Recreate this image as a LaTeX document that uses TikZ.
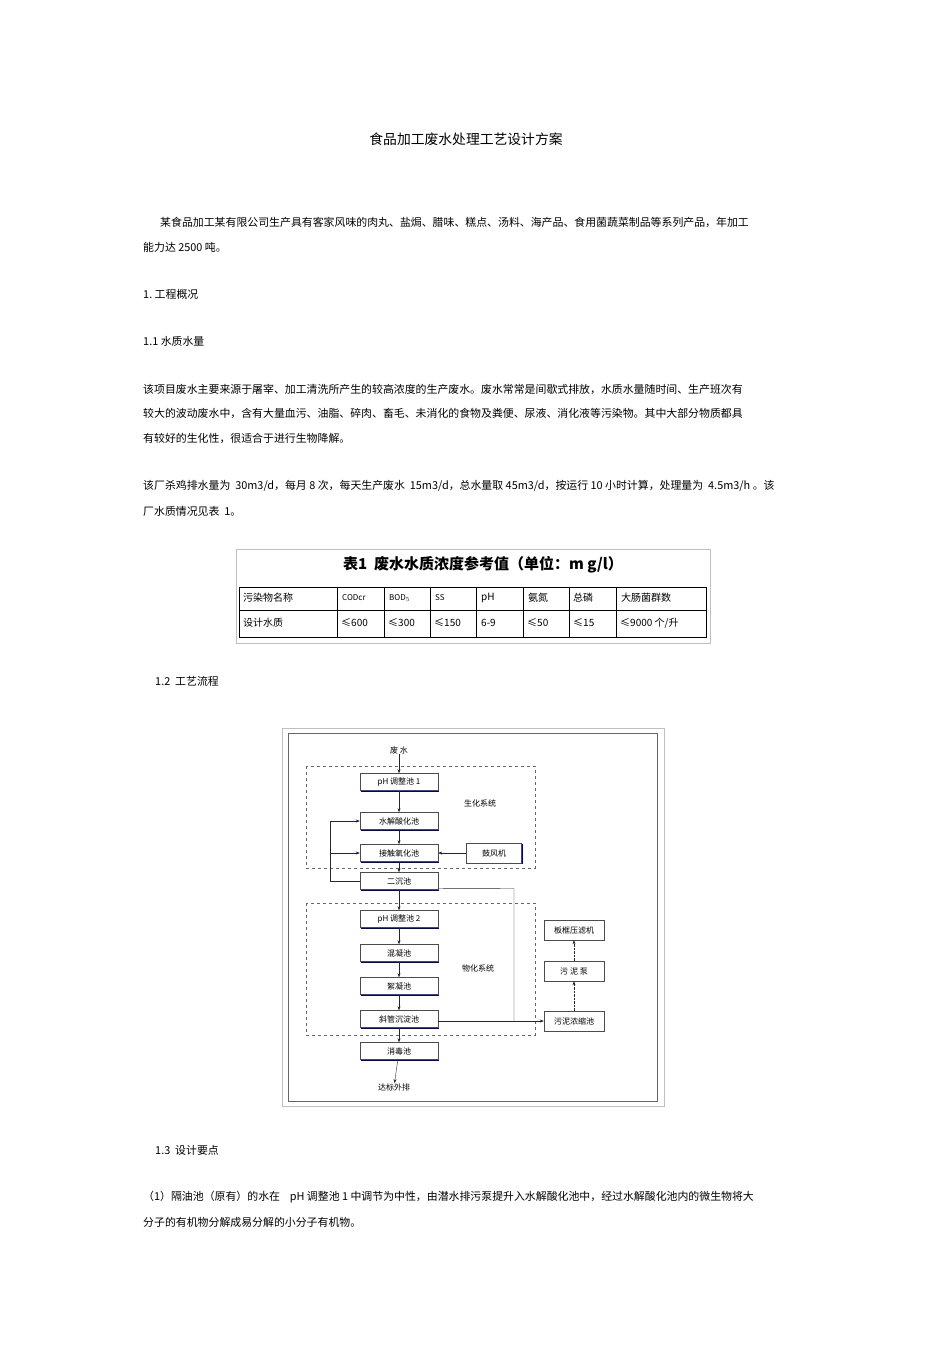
\documentclass[tikz,border=0pt]{standalone}
\usepackage{fontspec}
\setmainfont{Noto Sans CJK SC}
\usetikzlibrary{arrows.meta,calc,shadows}
\begin{document}
\begin{tikzpicture}[x=1pt,y=-1pt,
  txt/.style={anchor=west,inner sep=0,font=\fontsize{10.9}{12}\selectfont},
  box/.style={draw=black!70,fill=white,minimum width=78pt,minimum height=17pt,inner sep=0,font=\fontsize{8}{9}\selectfont,
    drop shadow={fill=blue!45!black,opacity=1,shadow xshift=1.3pt,shadow yshift=-1.3pt}},
  lbl/.style={inner sep=0,font=\fontsize{8}{9}\selectfont},
  arr/.style={-{Stealth[length=4pt,width=3pt]},black!85},
  dbox/.style={draw=black!60,dashed,line width=1pt},
  cell/.style={inner sep=0,anchor=west,font=\fontsize{10}{11}\selectfont}]
\useasboundingbox (0,0) rectangle (950,1345);
\fill[white] (0,0) rectangle (950,1345);
\node[inner sep=0,font=\fontsize{13.8}{15}\selectfont] (title) at (466,139) {食品加工废水处理工艺设计方案};
\node[txt] (p1) at (160,222) {某食品加工某有限公司生产具有客家风味的肉丸、盐焗、腊味、糕点、汤料、海产品、食用菌蔬菜制品等系列产品，年加工};
\node[txt] (p2) at (143,247) {能力达 2500 吨。};
\node[txt] (h1) at (143,294) {1.\ 工程概况};
\node[txt] (h11) at (143,341) {1.1\ 水质水量};
\node[txt] (p3) at (143,389) {该项目废水主要来源于屠宰、加工清洗所产生的较高浓度的生产废水。废水常常是间歇式排放，水质水量随时间、生产班次有};
\node[txt] (p4) at (143,413) {较大的波动废水中，含有大量血污、油脂、碎肉、畜毛、未消化的食物及粪便、尿液、消化液等污染物。其中大部分物质都具};
\node[txt] (p5) at (143,438) {有较好的生化性，很适合于进行生物降解。};
\node[txt] (p6) at (143,486) {该厂杀鸡排水量为\ \ 30m3/d，每月 8 次，每天生产废水\ \ 15m3/d，总水量取 45m3/d，按运行 10 小时计算，处理量为\ \ 4.5m3/h 。该};
\node[txt] (p7) at (143,511) {厂水质情况见表\ \ 1。};
% table
\draw[black!25] (236,549) rectangle (710,643);
\node[inner sep=0,font=\fontsize{15}{17}\selectfont\bfseries] (tt) at (483,565) {表1\ \ 废水水质浓度参考值（单位：m g/l）};
\draw[line width=0.9pt] (239,587) rectangle (706,637);
\draw[line width=0.9pt] (239,610) -- (706,610);
\foreach \x in {337,384,430,476,523,569,616} \draw[line width=0.9pt] (\x,587) -- (\x,637);
\node[cell] (c1) at (243,598) {污染物名称};
\node[cell,font=\fontsize{8}{9}\selectfont] (c2) at (342,598) {CODcr};
\node[cell,font=\fontsize{8}{9}\selectfont] (c3) at (389,598) {BOD$_5$};
\node[cell,font=\fontsize{8}{9}\selectfont] (c4) at (435,598) {SS};
\node[cell] (c5) at (481,598) {pH};
\node[cell] (c6) at (528,598) {氨氮};
\node[cell] (c7) at (573,598) {总磷};
\node[cell] (c8) at (621,598) {大肠菌群数};
\node[cell] (d1) at (243,623) {设计水质};
\node[cell] (d2) at (341,623) {≤600};
\node[cell] (d3) at (388,623) {≤300};
\node[cell] (d4) at (434,623) {≤150};
\node[cell] (d5) at (481,623) {6-9};
\node[cell] (d6) at (527,623) {≤50};
\node[cell] (d7) at (573,623) {≤15};
\node[cell] (d8) at (620,623) {≤9000 个/升};
\node[txt] (h12) at (155,681) {1.2\ \ 工艺流程};
% flow chart
\draw[black!25] (282,728) rectangle (664,1106);
\draw[black!60,line width=1pt] (288,733) rectangle (657,1101);
\draw[dbox] (306,766) rectangle (535,868);
\draw[dbox] (306,903) rectangle (535,1035);
\node[lbl] (fs) at (399,750) {废 水};
\node[box] (ph1) at (399,782) {pH 调整池 1};
\node[box] (sj) at (399,821) {水解酸化池};
\node[box] (jc) at (399,853) {接触氧化池};
\node[box,minimum width=55pt,minimum height=20pt] (gf) at (494,853) {鼓风机};
\node[box] (ec) at (399,881) {二沉池};
\node[lbl] (sh) at (480,803) {生化系统};
\node[box] (ph2) at (399,919) {pH 调整池 2};
\node[box] (hn) at (399,953) {混凝池};
\node[box] (xn) at (399,986) {絮凝池};
\node[box] (xg) at (399,1019) {斜管沉淀池};
\node[box] (xd) at (399,1051) {消毒池};
\node[lbl] (db) at (394,1087) {达标外排};
\node[lbl] (wh) at (478,968) {物化系统};
\node[box,minimum width=60pt,minimum height=20pt] (bk) at (574,930) {板框压滤机};
\node[box,minimum width=60pt,minimum height=20pt] (wb) at (574,971) {污 泥 泵};
\node[box,minimum width=60pt,minimum height=20pt] (wn) at (574,1021) {污泥浓缩池};
\draw[arr] (fs) -- (ph1);
\draw[arr] (ph1) -- (sj);
\draw[arr] (sj) -- (jc);
\draw[arr] (jc) -- (ec);
\draw[arr] (gf) -- (jc);
\coordinate (fb) at (330,821);
\draw[black!85] (ec.west) -- (330,881) -- (fb);
\draw[arr] (fb) -- (sj.west);
\draw[arr] (330,853) -- (jc.west);
\draw[arr] (ec) -- (ph2);
\draw[arr] (ph2) -- (hn);
\draw[arr] (hn) -- (xn);
\draw[arr] (xn) -- (xg);
\draw[arr] (xg) -- (xd);
\draw[arr] (xd) -- (db);
\draw[black!85] ($(ec.south east)+(0,-1)$) -- (514,888.5) -- (514,1021);
\draw[arr] (xg.east |- wn.west) -- (wn.west);
\draw[arr,densely dotted] (wn) -- (wb);
\draw[arr,densely dotted] (wb) -- (bk);
\node[txt] (h13) at (155,1150) {1.3\ \ 设计要点};
\node[txt] (p8) at (143,1197) {（1）隔油池（原有）的水在\ \ \ \ pH 调整池 1 中调节为中性，由潜水排污泵提升入水解酸化池中，经过水解酸化池内的微生物将大};
\node[txt] (p9) at (143,1222) {分子的有机物分解成易分解的小分子有机物。};
\end{tikzpicture}
\end{document}
